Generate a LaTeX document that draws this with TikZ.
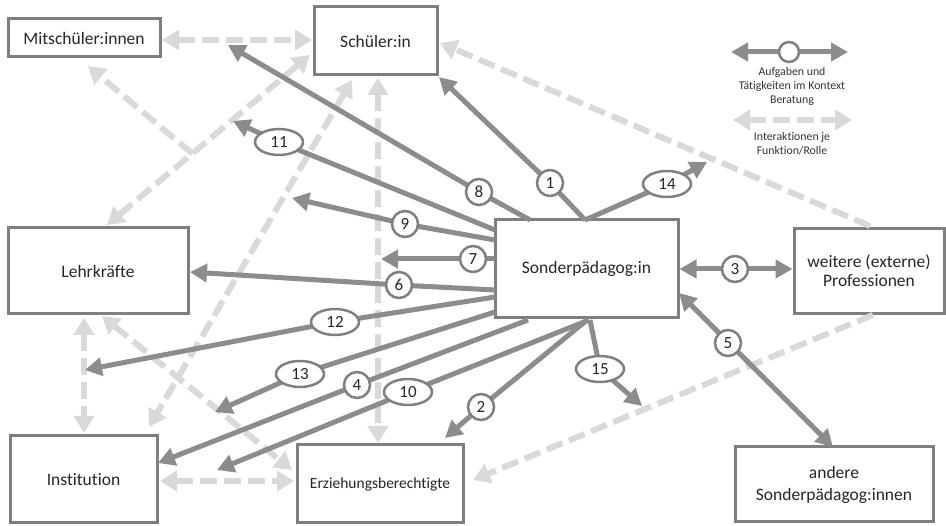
\documentclass[tikz,border=0pt]{standalone}
\usepackage{fontspec}
\setmainfont{Carlito}[RawFeature={-liga;-clig;-calt;-dlig}]
\usetikzlibrary{arrows.meta,shapes.geometric,calc}
\definecolor{bordergray}{HTML}{7F7F7F}
\definecolor{arrowgray}{HTML}{8C8C8C}
\definecolor{dashgray}{HTML}{D9D9D9}
\definecolor{txt}{HTML}{262626}
\definecolor{legtxt}{HTML}{333333}
\begin{document}
\begin{tikzpicture}[x=1pt,y=-1pt,
  box/.style={draw=bordergray, line width=3pt, fill=white, text=txt,
    font=\fontsize{17.5}{20}\selectfont, align=center, inner sep=0pt},
  solidarr/.style={draw=arrowgray, line width=5pt, line join=round,
    -{Triangle[length=17pt,width=18pt]}},
  soliddbl/.style={draw=arrowgray, line width=5pt, line join=round,
    {Triangle[length=17pt,width=18pt]}-{Triangle[length=17pt,width=18pt]}},
  dasharr/.style={draw=dashgray, line width=6pt, dash pattern=on 17pt off 7pt,
    -{Triangle[length=17pt,width=20pt]}},
  dashdbl/.style={draw=dashgray, line width=6pt, dash pattern=on 17pt off 7pt,
    {Triangle[length=17pt,width=20pt]}-{Triangle[length=17pt,width=20pt]}},
  numc/.style={ellipse, draw=bordergray, line width=2.5pt, fill=white, text=txt,
    font=\fontsize{17}{18}\selectfont, inner sep=0pt, minimum width=26pt, minimum height=26pt},
  nume/.style={numc, minimum width=48pt},
  legtext/.style={text=legtxt, font=\fontsize{11.8}{14}\selectfont, align=center, inner sep=0pt}
]
\useasboundingbox (0,0) rectangle (946,526);

% boxes
\node[box, minimum width=152pt, minimum height=38pt] (mit) at (84,38) {Mitschüler:innen};
\node[box, minimum width=123pt, minimum height=68pt] (sch) at (375.5,41) {Schüler:in};
\node[box, minimum width=180pt, minimum height=86pt] (leh) at (98,271) {Lehrkräfte};
\node[box, minimum width=147pt, minimum height=87pt] (inst) at (83.5,479.5) {Institution};
\node[box, minimum width=166pt, minimum height=78pt, font=\fontsize{15.5}{19}\selectfont] (erz) at (380,484) {Erziehungsberechtigte};
\node[box, minimum width=183pt, minimum height=98pt] (son) at (586.5,269) {Sonderpädagog:in};
\node[box, minimum width=150pt, minimum height=85pt, font=\fontsize{17.5}{19}\selectfont] (wei) at (869,271) {weitere (externe)\\Professionen};
\node[box, minimum width=198pt, minimum height=75pt, font=\fontsize{17.5}{22}\selectfont] (and) at (834,484.5) {andere\\Sonderpädagog:innen};

% dashed interaction arrows
\coordinate (dSchL) at (310,55);
\coordinate (dLehS) at (107,225);
\coordinate (dMitB) at (88,66);
\coordinate (dSchI) at (352,80);
\coordinate (dInsS) at (149,427);
\coordinate (dSchE) at (378,78);
\coordinate (dErzS) at (378,443);
\coordinate (dWeiT) at (870,226);
\coordinate (dSchR) at (440,43);
\coordinate (dLehB) at (84,318);
\coordinate (dInsT) at (84,433);
\coordinate (dLehE) at (102,316);
\coordinate (dErzL) at (292,470);
\coordinate (dInsR) at (160,481);
\coordinate (dErzI) at (294,481);
\coordinate (dWeiB) at (873,315);
\coordinate (dErzR) at (473,480);
\coordinate (dMitR) at (162,40);
\coordinate (dSchW) at (312,40);
\coordinate (dBranch) at ($(dSchL)!0.58!(dLehS)$);

\draw[dashdbl] (dMitR) -- (dSchW);
\draw[dashdbl] (dSchL) -- (dLehS);
\draw[dasharr] (dBranch) -- (dMitB);
\draw[dashdbl] (dSchI) -- (dInsS);
\draw[dashdbl] (dSchE) -- (dErzS);
\draw[dasharr] (dWeiT) -- (dSchR);
\draw[dashdbl] (dLehB) -- (dInsT);
\draw[dashdbl] (dLehE) -- (dErzL);
\draw[dashdbl] (dInsR) -- (dErzI);
\draw[dasharr] (dWeiB) -- (dErzR);

% solid task arrows: start, label, tip
\coordinate (s1) at (585,220);  \coordinate (c1) at (550,183);  \coordinate (t1) at (439,77);
\coordinate (s14) at (585,220); \coordinate (c14) at (667,184); \coordinate (t14) at (707,162);
\coordinate (s8) at (530,220);  \coordinate (c8) at (479,192);  \coordinate (t8) at (228,45);
\coordinate (s11) at (495,230); \coordinate (c11) at (279,142); \coordinate (t11) at (233,121);
\coordinate (s9) at (495,240);  \coordinate (c9) at (405,224);  \coordinate (t9) at (292,198);
\coordinate (s7) at (495,259);  \coordinate (c7) at (473,259);  \coordinate (t7) at (381,259);
\coordinate (s6) at (495,290);  \coordinate (c6) at (399,285);  \coordinate (t6) at (190,272);
\coordinate (s12) at (495,297); \coordinate (c12) at (335,322); \coordinate (t12) at (85,370);
\coordinate (s13) at (495,312); \coordinate (c13) at (300,374); \coordinate (t13) at (215,412);
\coordinate (s4) at (528,320);  \coordinate (c4) at (357,385);  \coordinate (t4) at (158,463);
\coordinate (s10) at (589,320); \coordinate (c10) at (408,392); \coordinate (t10) at (217,470);
\coordinate (s2) at (587,320);  \coordinate (c2) at (481,407);  \coordinate (t2) at (445,438);
\coordinate (s15) at (590,320); \coordinate (c15) at (600,369); \coordinate (t15) at (642,406);
\coordinate (c3) at (735,269);
\coordinate (s5) at (679,293);  \coordinate (c5) at (728,343);  \coordinate (t5) at (833,447);

\foreach \k in {1,14,8,11,9,7,6,12,13,4,10,2,15}{
  \draw[solidarr] (s\k) -- (c\k) -- (t\k);
}
\draw[soliddbl] (son.east) -- (son.east -| wei.west);
\draw[soliddbl] (s5) -- (t5);

% labels
\node[numc] (n1) at (c1) {1};
\node[numc] (n2) at (c2) {2};
\node[numc] (n3) at (c3) {3};
\node[numc] (n4) at (c4) {4};
\node[numc] (n5) at (c5) {5};
\node[numc] (n6) at (c6) {6};
\node[numc] (n7) at (c7) {7};
\node[numc] (n8) at (c8) {8};
\node[numc] (n9) at (c9) {9};
\node[nume] (n10) at (c10) {10};
\node[nume] (n11) at (c11) {11};
\node[nume] (n12) at (c12) {12};
\node[nume] (n13) at (c13) {13};
\node[nume] (n14) at (c14) {14};
\node[nume] (n15) at (c15) {15};

% legend
\coordinate (la) at (731,52);
\coordinate (lb) at (848,52);
\draw[soliddbl] (la) -- (lb);
\node[numc, minimum width=20pt, minimum height=20pt] (lc) at (789,52) {};
\node[legtext] (lt1) at (792,86) {Aufgaben und\\Tätigkeiten im Kontext\\Beratung};
\coordinate (ld) at (733,120);
\coordinate (le) at (852,120);
\draw[dashdbl] (ld) -- (le);
\node[legtext] (lt2) at (792,143.5) {Interaktionen je\\Funktion/Rolle};
\end{tikzpicture}
\end{document}
